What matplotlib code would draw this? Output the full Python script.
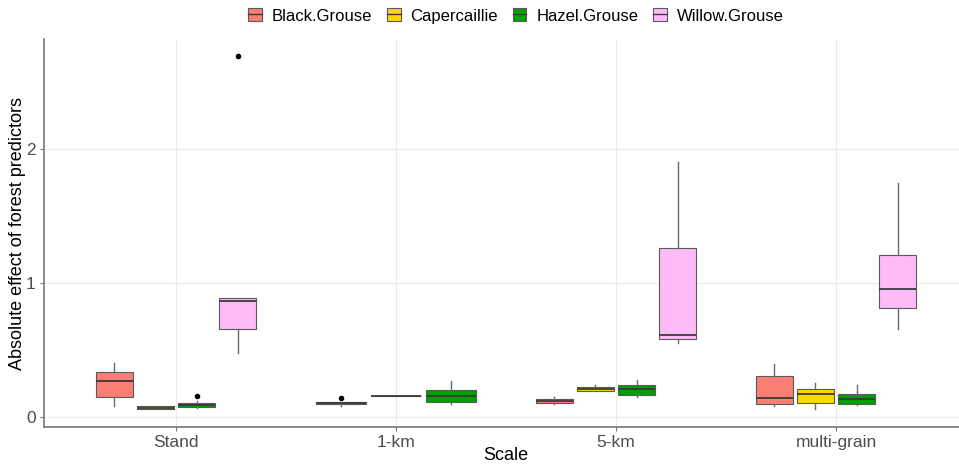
import matplotlib
matplotlib.use("Agg")
import matplotlib.pyplot as plt
from matplotlib.patches import Patch
from matplotlib.lines import Line2D

plt.rcParams['font.family'] = ['Liberation Sans', 'DejaVu Sans']

scales = ["Stand", "1-km", "5-km", "multi-grain"]
species = ["Black.Grouse", "Capercaillie", "Hazel.Grouse", "Willow.Grouse"]
colors = ["#FA7F72", "#FFD700", "#00A000", "#FFBBF7"]

# five-number summaries (whisker low, q1, median, q3, whisker high) per scale, None = absent
black_grouse = [[0.08, 0.15, 0.27, 0.335, 0.40],
                [0.08, 0.095, 0.104, 0.114, 0.114],
                [0.10, 0.107, 0.12, 0.134, 0.15],
                [0.08, 0.10, 0.14, 0.306, 0.395]]
capercaillie = [[0.06, 0.063, 0.07, 0.078, 0.085],
                [0.16, 0.16, 0.16, 0.16, 0.16],
                [0.19, 0.196, 0.21, 0.224, 0.24],
                [0.062, 0.107, 0.17, 0.207, 0.254]]
hazel_grouse = [[0.07, 0.077, 0.09, 0.107, 0.12],
                [0.095, 0.114, 0.157, 0.20, 0.27],
                [0.147, 0.166, 0.207, 0.241, 0.276],
                [0.087, 0.10, 0.132, 0.174, 0.236]]
willow_grouse = [[0.475, 0.655, 0.865, 0.885, 0.885],
                 None,
                 [0.55, 0.58, 0.614, 1.259, 1.90],
                 [0.654, 0.811, 0.953, 1.209, 1.744]]

# outliers per scale
black_fliers = [[], [0.14], [], []]
caper_fliers = [[], [], [], []]
hazel_fliers = [[0.155], [], [], []]
willow_fliers = [[2.69], [], [], []]

summaries = [black_grouse, capercaillie, hazel_grouse, willow_grouse]
fliers = [black_fliers, caper_fliers, hazel_fliers, willow_fliers]

W, H = 959, 466
fig = plt.figure(figsize=(W / 100, H / 100), dpi=100)
# panel runs a bit past the right edge of the image like the original crop
ax = fig.add_axes([44 / W, 1 - 427 / H, 924 / W, (427 - 39) / H])

for gi, scale in enumerate(scales):
    present = [si for si in range(len(species)) if summaries[si][gi] is not None]
    n = len(present)
    slot = 0.75 / n
    for k, si in enumerate(present):
        lo, q1, med, q3, hi = summaries[si][gi]
        pos = gi + 1 - 0.375 + slot * (k + 0.5)
        st = dict(whislo=lo, q1=q1, med=med, q3=q3, whishi=hi, fliers=fliers[si][gi])
        ax.bxp([st], positions=[pos], widths=slot * 0.9, patch_artist=True,
               showcaps=False,
               boxprops=dict(facecolor=colors[si], edgecolor="#5a5a5a", linewidth=0.8),
               medianprops=dict(color="#3a3a3a", linewidth=1.3),
               whiskerprops=dict(color="#6a6a6a", linewidth=1.0),
               flierprops=dict(marker="o", markersize=3, markerfacecolor="black",
                               markeredgecolor="black"),
               zorder=3)

ax.set_xlim(0.4, 4.6)
ax.set_ylim(-0.075, 2.82)
ax.set_xticks(range(1, len(scales) + 1))
ax.set_xticklabels(scales)
ax.set_yticks([0, 1, 2])
ax.set_yticklabels(["0", "1", "2"])
ax.grid(True, color="#EBEBEB", linewidth=0.8, zorder=0)
ax.set_axisbelow(True)
for side in ["top", "right"]:
    ax.spines[side].set_visible(False)
for side in ["left", "bottom"]:
    ax.spines[side].set_color("#777777")
    ax.spines[side].set_linewidth(1.2)
ax.tick_params(colors="#777777", length=3, width=0.8, labelsize=12.5,
               labelcolor="#4D4D4D", pad=3)

ax.set_xlabel("Scale", fontsize=13, color="black")
ax.set_ylabel("Absolute effect of forest predictors", fontsize=13, color="black")
ax.xaxis.set_label_coords((506 - 44) / 924, (427 - 456) / 388)
ax.yaxis.set_label_coords((18 - 44) / 924, 0.5)
ax.xaxis.label.set_va("center")
ax.yaxis.label.set_va("center")

handles = []
for c in colors:
    handles.append((Patch(facecolor=c, edgecolor="#5a5a5a", linewidth=0.8),
                    Line2D([0], [0], color="#3a3a3a", linewidth=1.0)))
fig.legend(handles, species, loc="center", bbox_to_anchor=(516 / W, 1 - 16 / H),
           ncol=4, frameon=False, fontsize=12, handlelength=0.8, handleheight=0.8,
           handletextpad=0.6, columnspacing=0.9)

fig.savefig("out.png", dpi=100)
